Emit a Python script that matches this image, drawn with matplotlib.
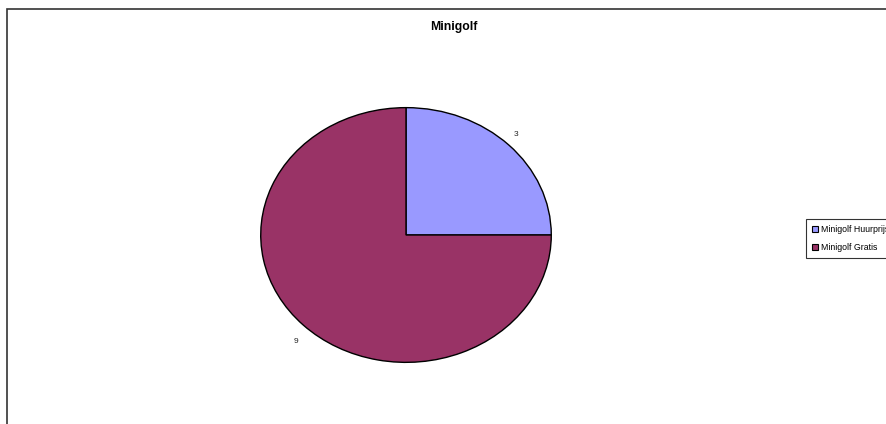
import numpy as np
import matplotlib
matplotlib.use("Agg")
import matplotlib.pyplot as plt
from matplotlib.patches import Rectangle
from matplotlib.lines import Line2D

plt.rcParams['font.family'] = ['Liberation Sans', 'DejaVu Sans']

categories = ["Minigolf Huurprijs", "Minigolf Gratis"]
values = [3, 9]
colors = ["#9999FF", "#993366"]
title = "Minigolf"

W, H = 887, 424
fig = plt.figure(figsize=(W / 100, H / 100), dpi=100)

# outer frame
fig.patches.append(Rectangle((7 / W, -0.1), 1.2, 1.1 - 9 / H, transform=fig.transFigure,
                             fill=False, edgecolor="#333333", linewidth=1.2))

# pie axes covering the ellipse bounding box
left, right, top, bottom = 260, 552, 107, 363
ax = fig.add_axes([left / W, (H - bottom) / H, (right - left) / W, (bottom - top) / H])
wedges, _ = ax.pie(values, colors=colors, startangle=90, counterclock=False,
                   wedgeprops=dict(edgecolor="black", linewidth=1.0))
ax.set_aspect('auto')
ax.set_xlim(-1.005, 1.005)
ax.set_ylim(-1.005, 1.005)
ax.axis('off')

for w, v in zip(wedges, values):
    mid = np.deg2rad((w.theta1 + w.theta2) / 2)
    ax.text(1.07 * np.cos(mid), 1.15 * np.sin(mid) - 0.025, str(v), ha="center", va="center",
            fontsize=6, color="#222222", clip_on=False)

fig.text(454 / W, 1 - 27 / H, title, ha="center", va="center", fontsize=8.8, fontweight="bold")

handles = [Line2D([], [], marker="s", linestyle="none", markersize=4,
                  markerfacecolor=c, markeredgecolor="black", markeredgewidth=0.8)
           for c in colors]
leg = fig.legend(handles, categories, loc="upper left", bbox_to_anchor=(806 / W, 1 - 219 / H),
                 fontsize=6.3, frameon=True, fancybox=False, edgecolor="black",
                 borderpad=0.65, handlelength=0.7, handletextpad=0.4, labelspacing=1.05,
                 borderaxespad=0)
leg.get_frame().set_linewidth(0.8)

fig.savefig("out.png", dpi=100)
